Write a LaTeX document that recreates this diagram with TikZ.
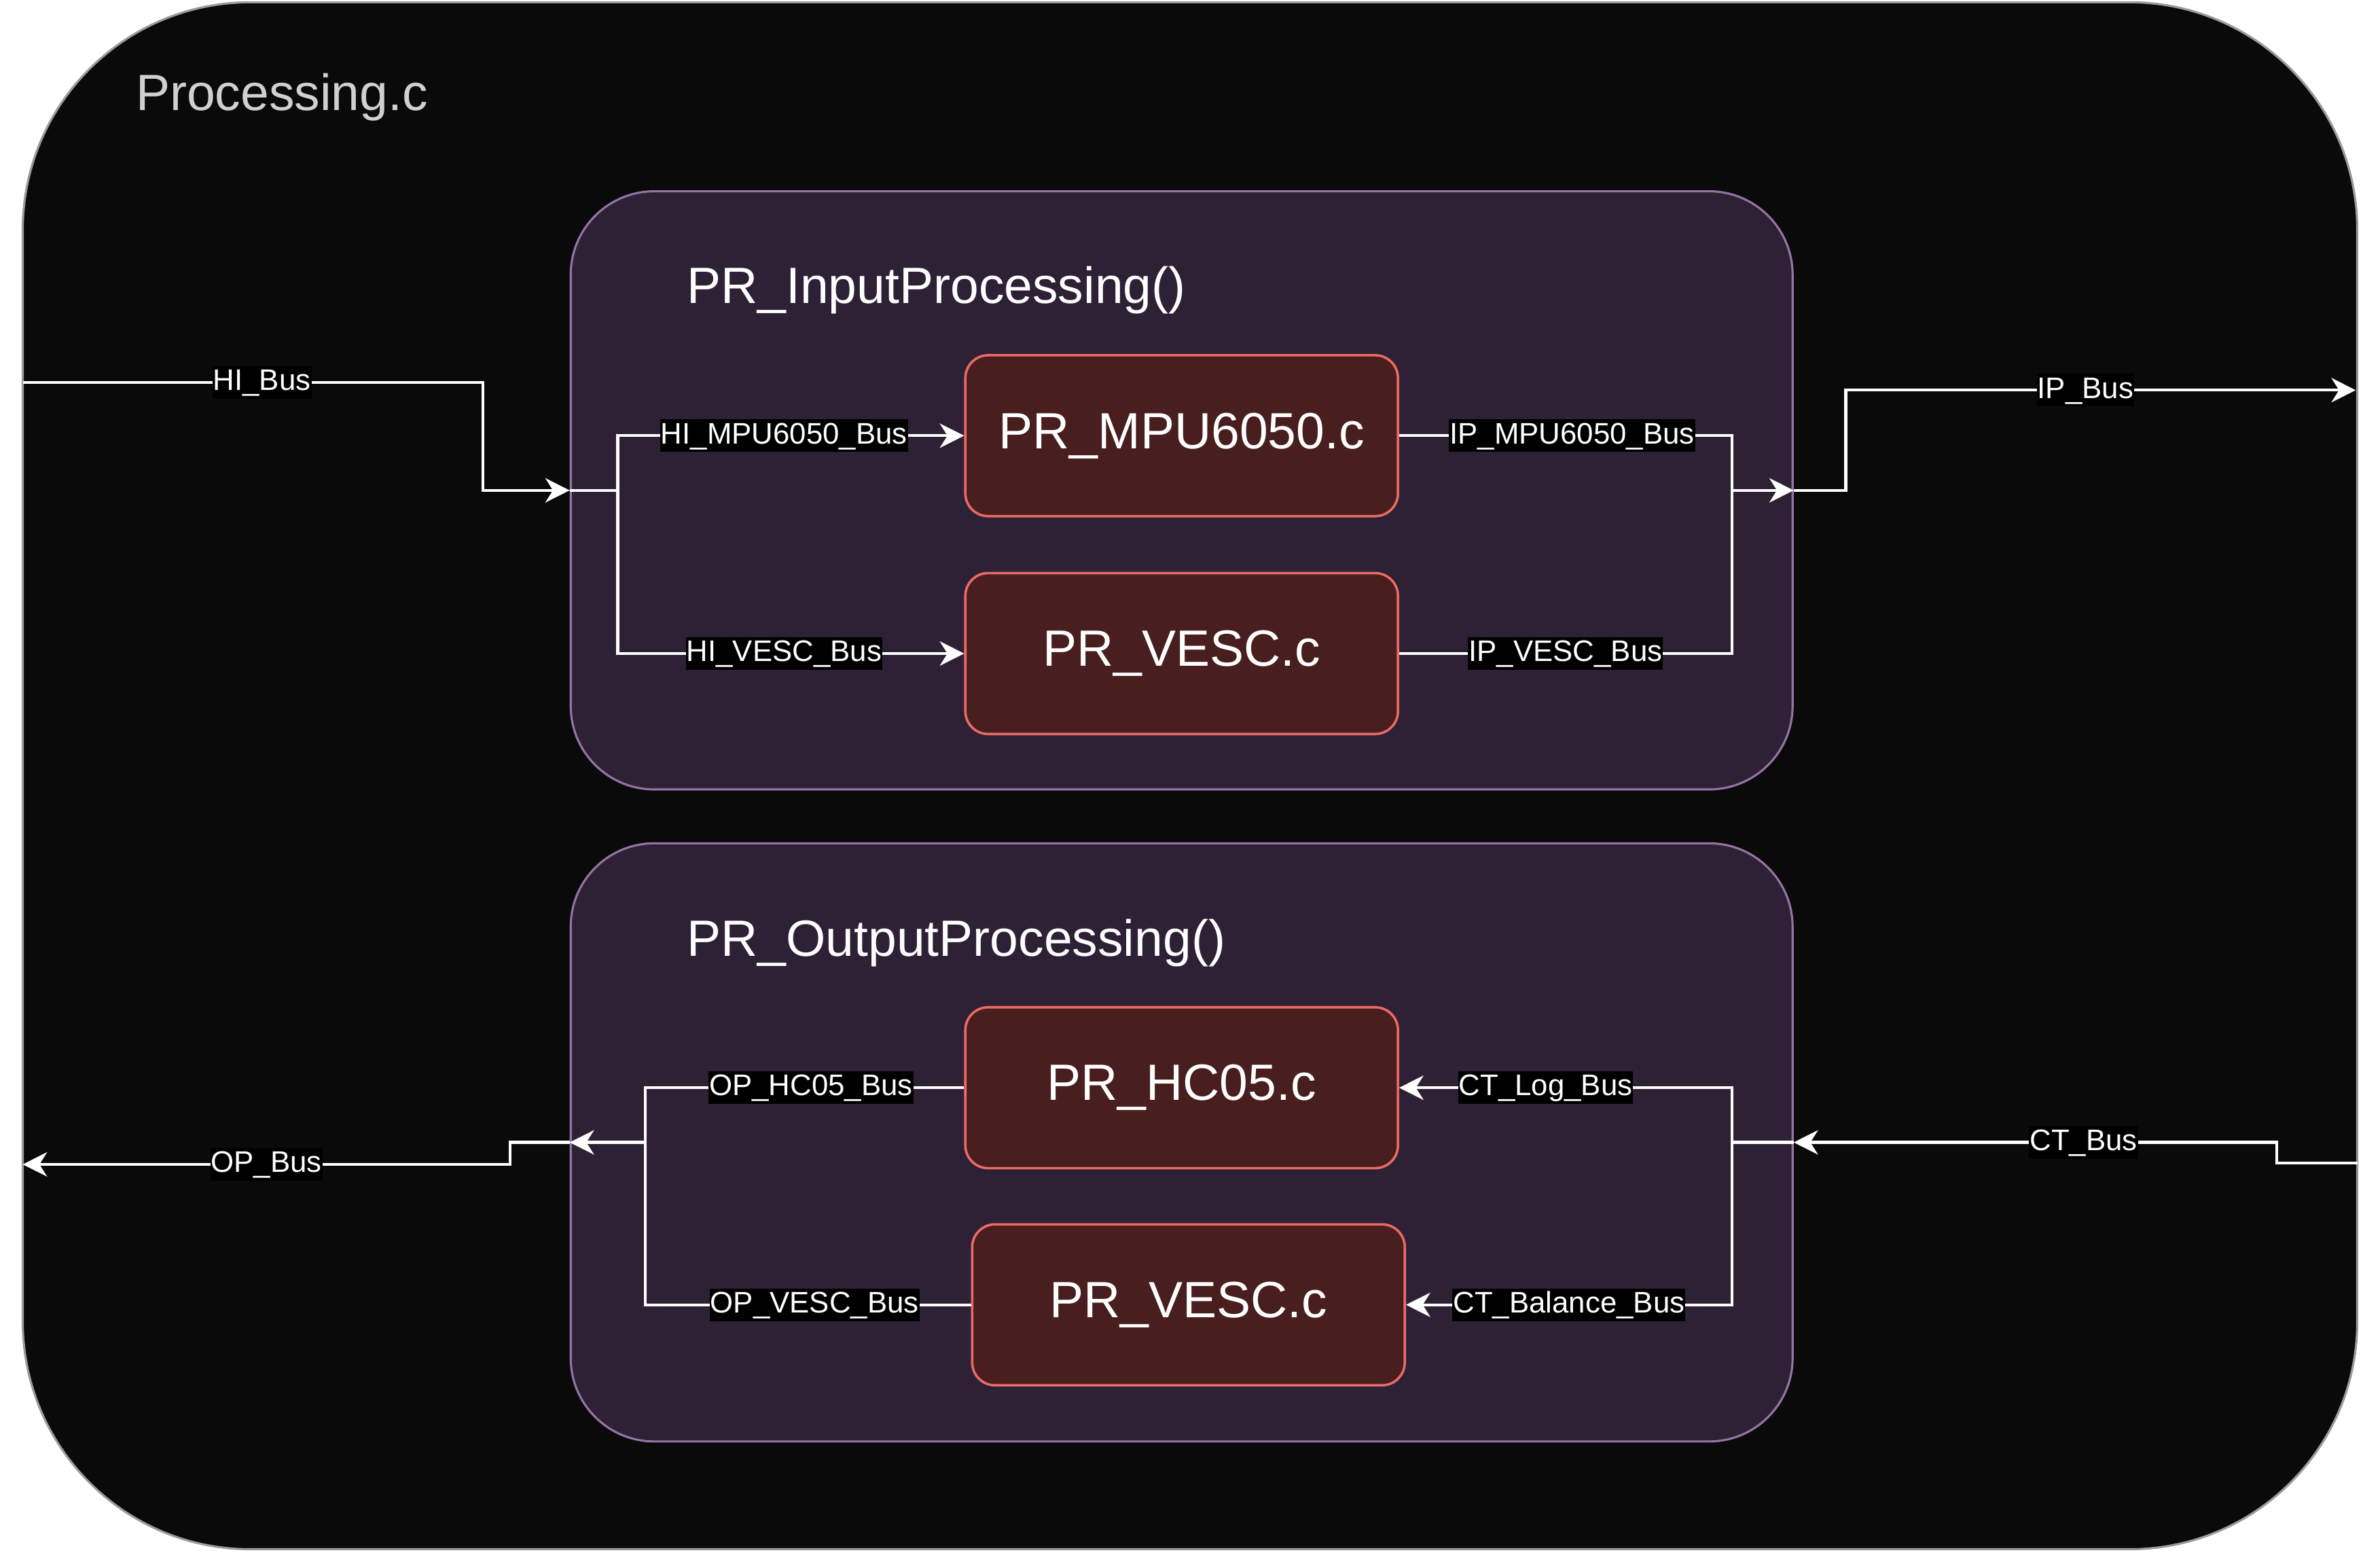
\documentclass[tikz,border=0pt]{standalone}
\usepackage{fontspec}
\setmainfont{Liberation Sans}
\usetikzlibrary{arrows.meta}
\definecolor{outerfill}{HTML}{0A0A0A}
\definecolor{outerline}{HTML}{9A9A9A}
\definecolor{funcfill}{HTML}{2E2135}
\definecolor{funcline}{HTML}{9673A6}
\definecolor{filefill}{HTML}{481E1E}
\definecolor{fileline}{HTML}{EA6B66}
\definecolor{titlegray}{HTML}{D0D0D0}
\tikzset{
    bigfont/.style={font=\fontsize{33.6}{40}\selectfont},
    funcbox/.style={draw=funcline, fill=funcfill, line width=1.4pt, rounded corners=55pt,
        minimum width=805pt, minimum height=394pt, inner sep=0pt},
    filebox/.style={draw=fileline, fill=filefill, line width=1.6pt, rounded corners=15pt,
        minimum width=285pt, minimum height=106pt, inner sep=0pt, text=white, bigfont},
    bus/.style={draw=white, line width=1.9pt},
    tip/.style={-{Stealth[length=16pt,width=16pt,inset=5pt]}},
    lbl/.style={fill=black, text=white, font=\fontsize{19.6}{23}\selectfont,
        inner xsep=0.5pt, inner ysep=1pt, text height=15pt, text depth=4.5pt}
}
\begin{document}
\begin{tikzpicture}[x=1pt,y=-1pt]
        \useasboundingbox (0,0) rectangle (1568,1024);

        % Processing.c
        \node[draw=outerline, fill=outerfill, line width=1.4pt, rounded corners=150pt,
            minimum width=1538pt, minimum height=1019pt, inner sep=0pt] (proc) at (784,511) {};
        \node[anchor=west, text=titlegray, bigfont] (proctitle) at (86,64) {Processing.c};

        % Input
        \node[funcbox] (inbox) at (778.5,323) {};
        \node[anchor=west, text=white, bigfont] (intitle) at (449,191) {PR\_InputProcessing()};
        \node[filebox] (mpu) at (778.5,287) {PR\_MPU6050.c};
        \node[filebox] (vescin) at (778.5,430.5) {PR\_VESC.c};

        % Output
        \node[funcbox] (outbox) at (778.5,752.5) {};
        \node[anchor=west, text=white, bigfont] (outtitle) at (449,621) {PR\_OutputProcessing()};
        \node[filebox] (hc) at (778.5,716.5) {PR\_HC05.c};
        \node[filebox] (vescout) at (783,859.5) {PR\_VESC.c};

        % Punti
        \coordinate (hiin) at (15,252);
        \coordinate (insplit) at (407,323);
        \coordinate (ipsplit) at (1141,323);
        \coordinate (ipout) at (1552,257);
        \coordinate (ctin) at (1553,766);
        \coordinate (ctsplit) at (1141,752.5);
        \coordinate (opsplit) at (425,752.5);
        \coordinate (opout) at (15,767);

        % Bus ingresso
        \draw[bus,tip] (hiin) -- node[lbl,pos=0.52] {HI\_Bus} (318,252) |- (inbox.west);
        \draw[bus] (inbox.west) -- (insplit);
        \draw[bus,tip] (insplit) |- node[lbl,pos=0.74] {HI\_MPU6050\_Bus} (mpu.west);
        \draw[bus,tip] (insplit) |- node[lbl,pos=0.74] {HI\_VESC\_Bus} (vescin.west);
        \draw[bus] (mpu.east) -| node[lbl,pos=0.26] {IP\_MPU6050\_Bus} (ipsplit);
        \draw[bus] (vescin.east) -| node[lbl,pos=0.25] {IP\_VESC\_Bus} (ipsplit);
        \draw[bus,tip] (ipsplit) -- (inbox.east);
        \draw[bus,tip] (inbox.east) -- (1216,323) |- node[lbl,pos=0.735] {IP\_Bus} (ipout);

        % Bus uscita
        \draw[bus,tip] (ctin) -- (1500,766) -- (1500,752.5) -- node[lbl,pos=0.4] {CT\_Bus} (outbox.east);
        \draw[bus] (outbox.east) -- (ctsplit);
        \draw[bus,tip] (ctsplit) |- node[lbl,pos=0.78] {CT\_Log\_Bus} (hc.east);
        \draw[bus,tip] (ctsplit) |- node[lbl,pos=0.75] {CT\_Balance\_Bus} (vescout.east);
        \draw[bus] (hc.west) -| node[lbl,pos=0.24] {OP\_HC05\_Bus} (opsplit);
        \draw[bus] (vescout.west) -| node[lbl,pos=0.24] {OP\_VESC\_Bus} (opsplit);
        \draw[bus,tip] (opsplit) -- (outbox.west);
        \draw[bus,tip] (outbox.west) -- (336,752.5) -- (336,767) -- node[lbl,pos=0.5] {OP\_Bus} (opout);
    \end{tikzpicture}
\end{document}
